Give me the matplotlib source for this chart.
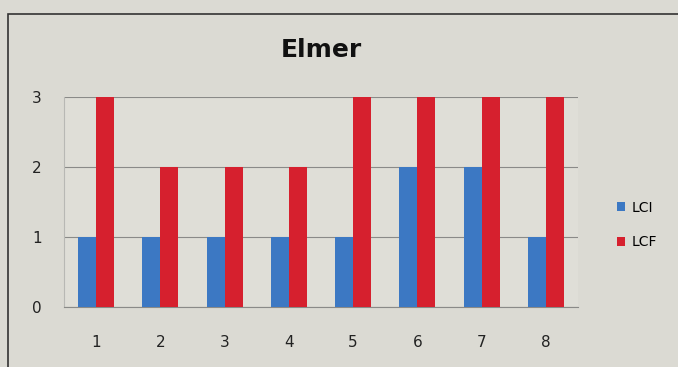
import numpy as np
from matplotlib import pyplot as plt
from matplotlib.patches import Rectangle

CATEGORIES = ['1', '2', '3', '4', '5', '6', '7', '8']
LCI = [1, 1, 1, 1, 1, 2, 2, 1]
LCF = [3, 2, 2, 2, 3, 3, 3, 3]
YTICKS = [0, 1, 2, 3]

BG = '#dbdad3'
BLUE = '#3c78c3'
RED = '#d6202e'

fig = plt.figure(figsize=(6.78, 3.67), dpi=100, facecolor=BG)
ax = fig.add_axes([64 / 678, 1 - 307 / 367, 514 / 678, 210 / 367])
ax.set_facecolor('#dfded7')

x = np.arange(len(CATEGORIES))
w = 0.28
ax.bar(x - w / 2, LCI, w, color=BLUE, label='LCI', zorder=3)
ax.bar(x + w / 2, LCF, w, color=RED, label='LCF', zorder=3)

ax.set_xlim(-0.5, len(CATEGORIES) - 0.5)
ax.set_ylim(0, 3)
ax.set_yticks(YTICKS)
ax.set_xticks(x)
ax.set_xticklabels(CATEGORIES)
ax.yaxis.grid(True, color='#8a8a88', linewidth=0.8, zorder=0)
ax.tick_params(length=0, labelsize=11, colors='#222222')
ax.tick_params(axis='x', pad=20)
ax.tick_params(axis='y', pad=16)
for s in ['top', 'right']:
    ax.spines[s].set_visible(False)
ax.spines['left'].set_color('#b8b8b4')
ax.spines['bottom'].set_color('#8a8a88')

fig.text(0.5 * (64 + 578) / 678, 1 - 50 / 367, 'Elmer', ha='center', va='center',
         fontsize=18, fontweight='bold', color='#111111')

leg = fig.legend(loc='center left', bbox_to_anchor=(604 / 678, 1 - 225 / 367), frameon=False,
                 handlelength=0.6, handleheight=0.6, labelspacing=1.5, handletextpad=0.5,
                 fontsize=10)

# outer chart border
fig.patches.append(Rectangle((8 / 678, -0.1), 1.0, 1 - 14 / 367 + 0.1, transform=fig.transFigure,
                             fill=False, edgecolor='#333333', linewidth=1.2))

fig.savefig('out.png', dpi=100, facecolor=BG)
